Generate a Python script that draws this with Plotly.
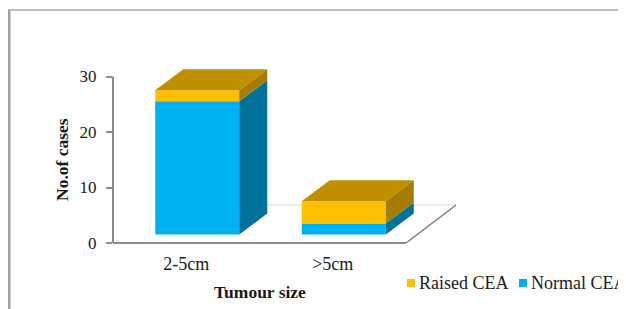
import plotly.graph_objects as go

# ---- data ----
categories = ["2-5cm", ">5cm"]
normal_cea = [24, 2]
raised_cea = [2, 4]
y_ticks = [0, 10, 20, 30]
series_names = ["Raised CEA", "Normal CEA"]

# ---- layout constants (screen pixels; page body has an 8px margin) ----
OFF = 8
SW, SH = 626, 309
W, H = SW - OFF, SH - OFF
PLOT_LEFT, PLOT_RIGHT, PLOT_TOP, PLOT_BOTTOM = 113, 479, 60, 243  # screen px
L = PLOT_LEFT - OFF
T = PLOT_TOP - OFF
R = SW - PLOT_RIGHT
B = SH - PLOT_BOTTOM
PX_X = 146.5   # pixels per category unit
PX_Y = 5.55    # pixels per case
plot_w = W - L - R
plot_h = H - T - B
x0 = -0.5
x_range = [x0, x0 + plot_w / PX_X]
y_range = [0, plot_h / PX_Y]
n = len(categories)
x_end = x0 + n  # end of category floor


def ux(px):
    return px / PX_X


def uy(px):
    return px / PX_Y


def pxp(px):
    return (px - PLOT_LEFT) / plot_w


def pyp(py):
    return (PLOT_BOTTOM - py) / plot_h


BLUE = "#00B0F0"
BLUE_SIDE = "#00729C"
GOLD = "#FFC000"
GOLD_TOP = "#BF9000"
GOLD_SIDE = "#A57C00"
AXIS = "#8C8C8C"
TXT = "#1a1a1a"
FONT = "Liberation Serif"

bar_w = ux(84)
dxb, dyb = ux(28), uy(21)   # bar depth
dxf, dyf = ux(50), uy(38)   # floor depth
ox, oy = (dxf - dxb) / 2, (dyf - dyb) / 2

xs = [i + ox for i in range(n)]

fig = go.Figure()
fig.add_trace(go.Bar(
    x=xs, y=normal_cea, base=[oy] * n, width=bar_w, name=series_names[1],
    marker=dict(color=BLUE, line=dict(width=0)), showlegend=False,
))
fig.add_trace(go.Bar(
    x=xs, y=raised_cea, base=[oy + v for v in normal_cea], width=bar_w,
    name=series_names[0], marker=dict(color=GOLD, line=dict(width=0)),
    showlegend=False,
))

shapes = []
# floor
shapes.append(dict(type="line", xref="x", yref="y", x0=x0 + dxf, y0=dyf,
                   x1=x_end + dxf, y1=dyf, line=dict(color="#D9D9D9", width=1),
                   layer="below"))
shapes.append(dict(type="line", xref="x", yref="y", x0=x_end, y0=0,
                   x1=x_end + dxf, y1=dyf, line=dict(color="#7F7F7F", width=1.5),
                   layer="below"))
shapes.append(dict(type="line", xref="x", yref="paper", x0=x0, y0=0,
                   x1=x_end, y1=0, line=dict(color=AXIS, width=2)))
# y axis line
shapes.append(dict(type="line", xref="paper", yref="y", x0=0, y0=0,
                   x1=0, y1=y_ticks[-1], line=dict(color=AXIS, width=2)))

# 3D faces
for i in range(n):
    xl = xs[i] - bar_w / 2
    xr = xs[i] + bar_w / 2
    segs = [(oy, oy + normal_cea[i], BLUE_SIDE),
            (oy + normal_cea[i], oy + normal_cea[i] + raised_cea[i], GOLD_SIDE)]
    for (ya, yb, col) in segs:
        shapes.append(dict(
            type="path", xref="x", yref="y",
            path=f"M{xr},{ya} L{xr + dxb},{ya + dyb} L{xr + dxb},{yb + dyb} L{xr},{yb} Z",
            fillcolor=col, line=dict(width=0), layer="above"))
    top = segs[-1][1]
    shapes.append(dict(
        type="path", xref="x", yref="y",
        path=f"M{xl},{top} L{xr},{top} L{xr + dxb},{top + dyb} L{xl + dxb},{top + dyb} Z",
        fillcolor=GOLD_TOP, line=dict(width=0), layer="above"))

# frame
shapes.append(dict(type="line", xref="paper", yref="paper", x0=pxp(9), y0=pyp(10),
                   x1=pxp(9), y1=pyp(330), line=dict(color="#A0A0A0", width=3)))
shapes.append(dict(type="line", xref="paper", yref="paper", x0=pxp(8), y0=pyp(10),
                   x1=pxp(650), y1=pyp(10), line=dict(color="#A8A8A8", width=1.5)))

# legend markers
leg_cols = [GOLD, BLUE]
leg_px = [407, 519]
for col, px in zip(leg_cols, leg_px):
    shapes.append(dict(type="rect", xref="paper", yref="paper",
                       x0=pxp(px), x1=pxp(px + 8), y0=pyp(279), y1=pyp(287),
                       fillcolor=col, line=dict(width=0)))

annotations = [
    dict(text="<b>Tumour size</b>", xref="paper", yref="paper", x=pxp(260), y=pyp(292),
         xanchor="center", yanchor="middle", showarrow=False,
         font=dict(family=FONT, size=17.5, color=TXT)),
    dict(text="<b>No.of cases</b>", xref="paper", yref="paper", x=pxp(62), y=pyp(160),
         xanchor="center", yanchor="middle", showarrow=False, textangle=-90,
         font=dict(family=FONT, size=17.5, color=TXT)),
]
for name, px in zip(series_names, leg_px):
    annotations.append(dict(text=name, xref="paper", yref="paper", x=pxp(px + 10),
                            y=pyp(283), xanchor="left", yanchor="middle",
                            showarrow=False,
                            font=dict(family=FONT, size=18, color=TXT)))

fig.update_layout(
    width=W, height=H, margin=dict(l=L, r=R, t=T, b=B),
    paper_bgcolor="white", plot_bgcolor="white",
    barmode="overlay", showlegend=False,
    shapes=shapes, annotations=annotations,
    xaxis=dict(range=x_range, tickvals=list(range(n)), ticktext=categories,
               showgrid=False, zeroline=False, showline=False, ticks="",
               tickfont=dict(family=FONT, size=18, color=TXT),
               ticklabelstandoff=8, fixedrange=True),
    yaxis=dict(range=y_range, tickvals=y_ticks, showgrid=False, zeroline=False,
               showline=False, ticks="outside", ticklen=6, tickwidth=1.5,
               tickcolor=AXIS, tickfont=dict(family=FONT, size=17, color=TXT),
               ticklabelstandoff=6, fixedrange=True),
)

fig.write_html("out.html")
